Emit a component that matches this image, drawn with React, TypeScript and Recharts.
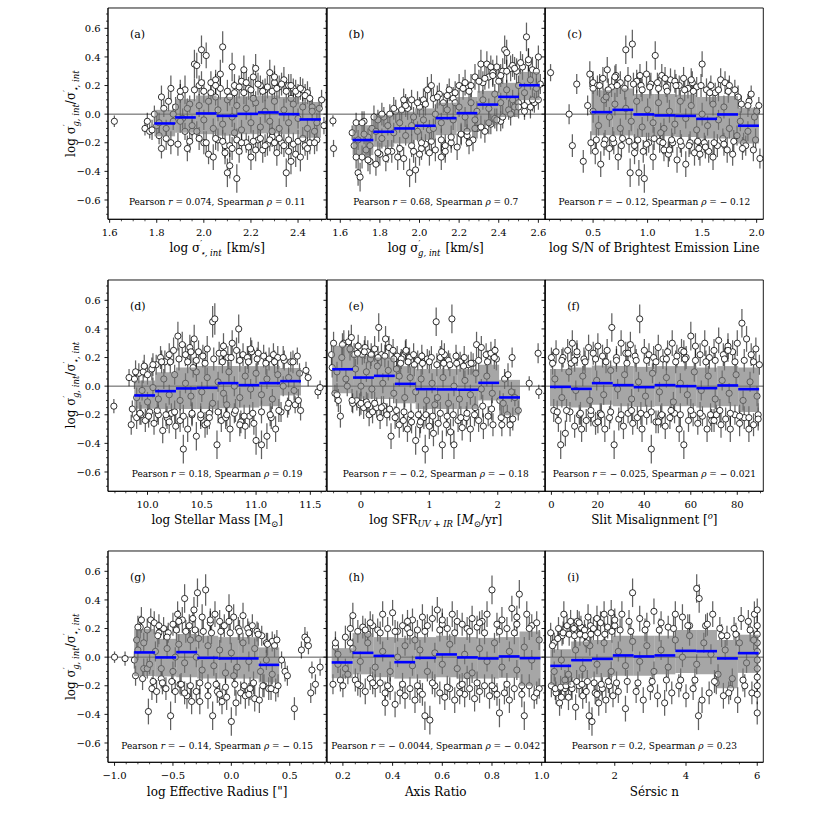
import React from "react";
import { ComposedChart, Scatter, XAxis, YAxis, ErrorBar, ReferenceArea, ReferenceLine } from "recharts";

const SERIF = "'DejaVu Serif', serif";

// shared y axis
const Y_DOMAIN = [-0.735, 0.742];
const Y_TICKS = [-0.6, -0.4, -0.2, 0, 0.2, 0.4, 0.6];
const Y_MINOR = [-0.7, -0.65, -0.55, -0.5, -0.45, -0.35, -0.3, -0.25, -0.15, -0.1, -0.05, 0.05, 0.1, 0.15, 0.25, 0.3, 0.35, 0.45, 0.5, 0.55, 0.65, 0.7];

// points are [x, y, err]; when err is missing the panel's typical error is used

// (a) sigma star
const A_TICKS = [1.6, 1.8, 2.0, 2.2, 2.4];
const A_MINOR = [1.65, 1.7, 1.75, 1.85, 1.9, 1.95, 2.05, 2.1, 2.15, 2.25, 2.3, 2.35, 2.45, 2.5];
const A_EDGES = [1.79, 1.878, 1.966, 2.054, 2.142, 2.23, 2.318, 2.406, 2.497];
const A_MED = [-0.065, -0.023, 0.005, -0.012, 0.002, 0.012, 0.0, -0.037];
const A_HI = [0.03, 0.105, 0.13, 0.12, 0.125, 0.13, 0.12, 0.085];
const A_LO = [-0.155, -0.13, -0.14, -0.15, -0.14, -0.135, -0.14, -0.165];
const A_PTS = [
  [1.62,-0.05,0.04],[1.75,-0.10,0.05],[1.76,-0.05,0.06],[1.77,-0.12,0.05],[1.78,-0.11,0.07],[1.79,0.0,0.06],
  [1.80,-0.08,0.08],[1.81,-0.15,0.06],[1.82,-0.24,0.07],[1.83,0.04,0.06],[1.84,-0.17,0.08],[1.85,0.09,0.07],[1.86,0.18,0.09],[1.87,-0.05,0.06],[1.88,0.05,0.07],
  [1.89,-0.21,0.08],[1.90,0.12,0.09],[1.91,-0.03,0.07],[1.92,0.17,0.1],[1.93,-0.24,0.09],[1.94,0.07,0.06],[1.95,-0.12,0.08],[1.96,0.35,0.1],[1.97,0.34,0.09],[1.98,0.2,0.07],[1.99,0.45,0.1],
  [2.00,-0.2,0.08],[2.01,0.41,0.09],[2.02,-0.28,0.07],[2.03,0.22,0.08],[2.04,-0.3,0.09],[2.05,0.24,0.07],[2.06,-0.18,0.08],[2.07,0.28,0.1],[2.08,0.47,0.11],[2.09,-0.22,0.09],[2.10,-0.41,0.1],[2.11,-0.36,0.09],[2.12,0.33,0.1],[2.13,0.2,0.08],[2.14,-0.45,0.1],[2.15,-0.26,0.08],[2.16,0.23,0.09],[2.17,0.31,0.1],[2.18,-0.2,0.07],[2.19,0.18,0.08],[2.2,-0.3,0.09],[2.21,0.26,0.09],[2.22,0.32,0.1],[2.23,-0.18,0.08],[2.24,0.2,0.07],[2.25,-0.25,0.09],[2.26,0.17,0.08],[2.27,-0.21,0.08],[2.28,0.29,0.09],[2.29,-0.16,0.07],[2.30,0.22,0.08],[2.31,-0.27,0.09],[2.32,0.19,0.08],[2.33,-0.2,0.08],[2.34,0.24,0.09],[2.35,-0.41,0.1],[2.36,0.2,0.08],[2.37,-0.33,0.09],[2.38,0.18,0.07],[2.39,-0.28,0.09],[2.40,0.14,0.07],[2.41,-0.3,0.1],[2.42,0.17,0.08],[2.43,-0.22,0.07],[2.44,0.15,0.08],[2.45,-0.2,0.08],[2.46,0.05,0.06],[2.47,-0.12,0.07],[2.48,-0.18,0.08],[2.50,0.1,0.07],[2.51,-0.08,0.06],
  [1.81,-0.06,0.07],[1.84,-0.1,0.06],[1.87,0.0,0.07],[1.9,-0.05,0.08],[1.93,0.04,0.07],[1.95,-0.08,0.07],[1.98,0.06,0.08],[2.0,-0.04,0.07],[2.02,0.09,0.08],[2.04,-0.1,0.07],[2.06,0.03,0.08],[2.08,-0.07,0.07],[2.1,0.1,0.08],[2.12,-0.02,0.07],[2.14,0.06,0.08],[2.16,-0.11,0.07],[2.18,0.04,0.08],[2.2,-0.06,0.07],[2.22,0.08,0.08],[2.24,-0.09,0.07],[2.26,0.02,0.08],[2.28,-0.05,0.07],[2.3,0.09,0.08],[2.32,-0.1,0.07],[2.34,0.03,0.08],[2.36,-0.06,0.07],[2.38,0.07,0.08],[2.4,-0.03,0.07],[2.42,0.05,0.08],[2.44,-0.1,0.07],[2.46,0.02,0.07],[2.48,-0.06,0.07],[1.97,-0.12,0.07],[2.05,0.12,0.06],[2.13,-0.13,0.07],[2.21,0.11,0.06],[2.29,-0.12,0.07],[2.37,0.11,0.06],[1.92,-0.12,0.06],[2.11,0.12,0.06],
  [1.82,0.12],[1.86,-0.2],[1.9,0.16],[1.94,-0.19],[1.96,0.17],[1.98,-0.17],[2.0,0.16],[2.01,-0.2],[2.03,0.15],[2.05,-0.17],[2.07,0.18],[2.08,-0.19],[2.1,0.16],[2.11,-0.22],[2.13,0.15],[2.14,-0.18],[2.15,0.19],[2.16,-0.2],[2.17,0.15],[2.19,-0.23],[2.2,0.17],[2.21,-0.19],[2.23,0.21],[2.24,-0.17],[2.25,0.16],[2.26,-0.22],[2.27,0.19],[2.28,-0.18],[2.29,0.16],[2.3,-0.2],[2.31,0.18],[2.32,-0.17],[2.33,0.21],[2.34,-0.22],[2.35,0.16],[2.36,-0.18],[2.37,0.2],[2.38,-0.21],[2.39,0.16],[2.4,-0.19],[2.41,0.18],[2.42,-0.17],[2.43,0.13],[2.44,-0.24],[2.45,0.11],[2.47,-0.2],[2.49,0.04],[2.05,0.2],[2.12,-0.24],[2.18,0.22],[2.22,-0.25],[2.3,0.26],[2.36,-0.26],[1.99,0.22],[2.09,-0.27],
];

// (b) sigma gas
const B_TICKS = [1.6, 1.8, 2.0, 2.2, 2.4, 2.6];
const B_MINOR = [1.55, 1.65, 1.7, 1.75, 1.85, 1.9, 1.95, 2.05, 2.1, 2.15, 2.25, 2.3, 2.35, 2.45, 2.5, 2.55];
const B_EDGES = [1.662, 1.767, 1.872, 1.977, 2.082, 2.187, 2.292, 2.397, 2.502, 2.607];
const B_MED = [-0.181, -0.123, -0.1, -0.081, -0.028, 0.007, 0.067, 0.121, 0.202];
const B_HI = [-0.077, -0.007, 0.016, 0.04, 0.08, 0.12, 0.163, 0.219, 0.295];
const B_LO = [-0.286, -0.228, -0.205, -0.18, -0.147, -0.123, -0.077, -0.02, 0.098];
const B_PTS = [
  [1.563,-0.047,0.04],[1.566,-0.24,0.06],
  [1.66,-0.13,0.05],[1.67,-0.22,0.06],[1.68,-0.06,0.07],[1.69,-0.41,0.09],[1.70,-0.44,0.1],[1.71,-0.3,0.08],[1.72,-0.05,0.07],[1.73,-0.25,0.07],[1.74,-0.16,0.06],[1.75,-0.33,0.09],[1.76,-0.1,0.07],
  [1.78,-0.35,0.08],[1.79,-0.04,0.07],[1.80,-0.28,0.08],[1.82,-0.02,0.07],[1.83,-0.31,0.09],[1.85,0.0,0.07],[1.86,-0.26,0.08],[1.88,0.02,0.08],[1.89,-0.3,0.09],[1.91,0.03,0.07],[1.92,-0.31,0.08],[1.94,0.04,0.08],[1.95,-0.41,0.1],[1.96,0.1,0.07],[1.97,-0.26,0.08],[1.98,-0.39,0.09],[2.0,0.05,0.07],[2.01,-0.24,0.08],[2.02,0.1,0.08],[2.03,-0.21,0.07],[2.04,0.17,0.09],[2.05,-0.27,0.09],[2.07,0.11,0.07],[2.08,-0.25,0.08],[2.1,0.14,0.08],[2.11,-0.3,0.09],[2.12,0.08,0.07],[2.13,-0.22,0.08],[2.15,0.17,0.08],[2.16,-0.2,0.07],[2.17,0.11,0.08],[2.19,-0.23,0.09],[2.2,0.2,0.08],[2.21,-0.14,0.07],[2.23,0.22,0.09],[2.24,-0.15,0.08],[2.25,0.16,0.07],[2.27,-0.18,0.08],[2.28,0.26,0.09],[2.29,-0.1,0.07],[2.31,0.35,0.1],[2.32,0.22,0.08],[2.33,-0.12,0.08],[2.34,0.35,0.09],[2.35,0.26,0.08],[2.36,-0.07,0.07],[2.37,0.29,0.09],[2.38,-0.03,0.07],[2.39,0.33,0.08],[2.4,0.23,0.08],[2.41,-0.05,0.07],[2.42,0.3,0.09],[2.43,0.45,0.1],[2.44,0.43,0.09],[2.45,0.03,0.07],[2.46,0.32,0.09],[2.47,0.34,0.08],[2.48,0.05,0.07],[2.49,0.3,0.09],[2.5,0.08,0.07],[2.52,0.33,0.09],[2.53,0.02,0.06],[2.54,0.54,0.1],[2.55,0.36,0.1],[2.56,0.05,0.08],[2.57,0.31,0.09],[2.58,0.08,0.07],[2.59,0.3,0.08],[2.6,0.1,0.07],[2.61,0.21,0.07],
  [1.69,-0.18,0.07],[1.72,-0.14,0.07],[1.75,-0.22,0.07],[1.78,-0.12,0.07],[1.81,-0.17,0.07],[1.84,-0.08,0.07],[1.87,-0.13,0.07],[1.9,-0.06,0.07],[1.93,-0.15,0.07],[1.96,-0.08,0.07],[1.99,-0.12,0.07],[2.02,-0.04,0.07],[2.05,-0.11,0.07],[2.08,0.0,0.07],[2.11,-0.06,0.07],[2.14,0.03,0.07],[2.17,-0.04,0.07],[2.2,0.05,0.07],[2.23,-0.02,0.07],[2.26,0.08,0.07],[2.29,0.02,0.07],[2.32,0.1,0.07],[2.35,0.04,0.07],[2.38,0.14,0.07],[2.41,0.08,0.07],[2.44,0.17,0.07],[2.47,0.1,0.07],[2.5,0.2,0.07],[2.53,0.15,0.07],[2.56,0.24,0.07],[2.59,0.18,0.07],[1.97,-0.02,0.07],[2.07,-0.1,0.07],[2.18,0.08,0.07],[2.28,-0.04,0.07],
  [1.68,-0.3],[1.71,-0.06],[1.74,-0.32],[1.77,-0.02],[1.79,-0.27],[1.81,0.0],[1.84,-0.26],[1.87,0.04],[1.9,-0.24],[1.93,0.06],[1.96,-0.22],[1.99,0.08],[2.01,-0.2],[2.03,0.07],[2.06,-0.19],[2.09,0.12],[2.11,-0.18],[2.14,0.13],[2.16,-0.16],[2.18,0.15],[2.21,-0.14],[2.22,0.18],[2.24,-0.12],[2.26,0.2],[2.28,-0.1],[2.3,0.23],[2.31,-0.09],[2.33,0.25],[2.35,-0.06],[2.37,0.27],[2.39,-0.04],[2.41,0.27],[2.42,-0.02],[2.44,0.3],[2.46,0.0],[2.48,0.32],[2.5,0.05],[2.51,0.36],[2.53,0.06],[2.55,0.38],[2.57,0.1],[2.6,0.4],[2.0,-0.28],[2.13,-0.26],[2.25,-0.2],[2.36,0.33],[1.92,0.1],[2.06,0.2],
];

// (c) S/N
const C_TICKS = [0.5, 1.0, 1.5, 2.0];
const C_MINOR = [0.1, 0.2, 0.3, 0.4, 0.6, 0.7, 0.8, 0.9, 1.1, 1.2, 1.3, 1.4, 1.6, 1.7, 1.8, 1.9];
const C_EDGES = [0.485, 0.677, 0.869, 1.061, 1.253, 1.445, 1.637, 1.829, 2.021];
const C_MED = [0.014, 0.03, -0.002, -0.009, -0.012, -0.033, -0.002, -0.081];
const C_HI = [0.167, 0.18, 0.14, 0.14, 0.135, 0.12, 0.126, 0.044];
const C_LO = [-0.147, -0.15, -0.16, -0.155, -0.16, -0.17, -0.17, -0.205];
const C_PTS = [
  [0.11,0.29,0.06],[0.28,0.0,0.07],[0.31,-0.22,0.08],[0.35,0.21,0.07],[0.41,-0.33,0.08],[0.45,0.06,0.07],[0.47,0.28,0.09],[0.48,-0.2,0.08],[0.5,0.22,0.08],[0.52,-0.26,0.09],[0.54,0.2,0.07],[0.57,-0.35,0.09],[0.59,0.25,0.08],[0.61,-0.18,0.07],[0.63,0.31,0.09],[0.65,-0.24,0.08],[0.67,0.19,0.07],[0.69,-0.2,0.08],[0.71,0.27,0.08],[0.73,-0.3,0.09],[0.75,0.22,0.08],[0.77,-0.17,0.07],[0.8,0.45,0.1],[0.82,0.25,0.08],[0.84,-0.41,0.1],[0.86,0.49,0.1],[0.88,-0.22,0.08],[0.9,0.23,0.08],[0.92,-0.41,0.09],[0.94,0.2,0.08],[0.96,-0.26,0.08],[0.97,-0.45,0.1],[0.99,0.28,0.09],[1.01,-0.2,0.07],[1.03,0.21,0.08],[1.05,-0.3,0.09],[1.07,0.41,0.1],[1.09,0.22,0.07],[1.11,-0.19,0.08],[1.13,0.27,0.08],[1.15,-0.25,0.08],[1.17,0.19,0.07],[1.19,-0.28,0.09],[1.21,0.24,0.08],[1.23,-0.2,0.07],[1.25,0.23,0.08],[1.27,-0.32,0.09],[1.29,0.2,0.07],[1.31,-0.22,0.08],[1.33,0.25,0.08],[1.35,-0.35,0.09],[1.37,0.18,0.07],[1.39,-0.2,0.08],[1.41,0.22,0.08],[1.43,-0.27,0.09],[1.45,0.19,0.07],[1.47,-0.24,0.08],[1.5,0.35,0.09],[1.52,-0.2,0.07],[1.54,0.17,0.08],[1.56,-0.26,0.08],[1.58,0.2,0.07],[1.6,-0.3,0.09],[1.62,0.15,0.07],[1.64,-0.22,0.08],[1.67,0.24,0.08],[1.69,-0.17,0.07],[1.71,0.22,0.08],[1.73,-0.25,0.09],[1.75,0.2,0.07],[1.78,-0.28,0.08],[1.8,0.17,0.07],[1.82,-0.15,0.07],[1.86,0.07,0.06],[1.88,-0.2,0.07],[1.9,-0.22,0.07],[1.93,0.09,0.07],[1.95,0.14,0.06],[1.97,-0.25,0.08],[2.0,0.02,0.06],[2.02,0.06,0.06],[2.03,-0.31,0.07],
  [0.5,0.02,0.08],[0.55,-0.08,0.07],[0.6,0.1,0.08],[0.65,-0.02,0.07],[0.7,0.07,0.08],[0.75,-0.1,0.07],[0.8,0.04,0.08],[0.85,-0.05,0.07],[0.9,0.09,0.08],[0.95,-0.09,0.07],[1.0,0.03,0.08],[1.05,-0.06,0.07],[1.1,0.08,0.08],[1.15,-0.1,0.07],[1.2,0.02,0.08],[1.25,-0.07,0.07],[1.3,0.09,0.08],[1.35,-0.03,0.07],[1.4,0.06,0.08],[1.45,-0.11,0.07],[1.5,0.0,0.08],[1.55,-0.08,0.07],[1.6,0.07,0.08],[1.65,-0.04,0.07],[1.7,0.05,0.08],[1.75,-0.1,0.07],[1.85,-0.05,0.07],[1.92,-0.12,0.07],[1.98,-0.02,0.07],[0.62,0.12,0.07],[1.12,-0.13,0.07],
  [0.5,0.18],[0.53,-0.18],[0.56,0.2],[0.6,-0.21],[0.64,0.17],[0.68,-0.17],[0.72,0.2],[0.76,-0.22],[0.79,0.18],[0.83,-0.19],[0.87,0.21],[0.91,-0.18],[0.95,0.17],[0.99,-0.21],[1.02,0.19],[1.06,-0.17],[1.1,0.18],[1.14,-0.2],[1.18,0.16],[1.22,-0.18],[1.26,0.2],[1.3,-0.19],[1.34,0.17],[1.38,-0.22],[1.42,0.16],[1.46,-0.19],[1.49,0.2],[1.53,-0.23],[1.57,0.15],[1.61,-0.2],[1.65,0.17],[1.7,-0.21],[1.74,0.16],[1.79,-0.19],[1.83,0.12],[1.87,-0.24],[1.92,0.06],[1.99,-0.18],[0.7,0.26],[0.93,0.27],[1.16,0.25],[1.4,0.24],[0.88,-0.27],[1.2,-0.25],[1.48,-0.28],
];

// (d) stellar mass
const D_TICKS = [10.0, 10.5, 11.0, 11.5];
const D_MINOR = [9.7, 9.8, 9.9, 10.1, 10.2, 10.3, 10.4, 10.6, 10.7, 10.8, 10.9, 11.1, 11.2, 11.3, 11.4, 11.6];
const D_EDGES = [9.878, 10.07, 10.262, 10.454, 10.646, 10.838, 11.03, 11.222, 11.414];
const D_MED = [-0.065, -0.035, -0.016, -0.012, 0.021, 0.007, 0.021, 0.035];
const D_HI = [0.039, 0.097, 0.13, 0.14, 0.14, 0.14, 0.14, 0.127];
const D_LO = [-0.158, -0.16, -0.16, -0.16, -0.155, -0.15, -0.14, -0.065];
const D_PTS = [
  [9.69,-0.14,0.05],[9.83,0.06,0.06],[9.85,-0.27,0.07],[9.86,-0.16,0.06],[9.88,0.05,0.07],[9.9,-0.22,0.08],[9.92,0.09,0.07],[9.94,-0.2,0.07],[9.96,0.1,0.08],[9.98,-0.24,0.08],[10.0,0.08,0.07],[10.02,-0.18,0.07],[10.04,0.12,0.08],[10.06,-0.26,0.08],[10.08,0.15,0.07],[10.1,-0.2,0.07],[10.12,0.2,0.08],[10.14,-0.31,0.09],[10.16,0.17,0.08],[10.18,-0.22,0.08],[10.2,0.22,0.08],[10.22,-0.19,0.07],[10.24,0.25,0.09],[10.26,-0.28,0.09],[10.28,0.35,0.1],[10.3,-0.24,0.08],[10.32,0.29,0.09],[10.33,-0.44,0.1],[10.35,0.22,0.08],[10.37,-0.3,0.09],[10.39,0.27,0.09],[10.41,-0.2,0.08],[10.43,0.33,0.1],[10.45,-0.35,0.1],[10.47,0.24,0.08],[10.49,-0.22,0.08],[10.51,0.21,0.08],[10.53,-0.27,0.09],[10.55,0.26,0.09],[10.57,-0.19,0.07],[10.6,0.45,0.11],[10.62,0.47,0.11],[10.64,-0.41,0.1],[10.66,0.23,0.08],[10.68,-0.24,0.08],[10.7,0.28,0.09],[10.72,-0.22,0.08],[10.74,0.2,0.08],[10.76,-0.3,0.09],[10.78,0.3,0.09],[10.8,-0.19,0.07],[10.82,0.25,0.09],[10.84,0.4,0.1],[10.86,-0.25,0.08],[10.88,0.22,0.08],[10.9,-0.28,0.09],[10.92,0.2,0.08],[10.94,-0.21,0.08],[10.96,0.24,0.08],[10.98,-0.26,0.08],[11.0,-0.38,0.1],[11.02,0.23,0.08],[11.05,-0.41,0.1],[11.07,0.21,0.08],[11.1,-0.35,0.09],[11.12,0.19,0.08],[11.14,-0.22,0.08],[11.16,0.22,0.08],[11.18,-0.3,0.09],[11.2,0.2,0.08],[11.23,-0.18,0.07],[11.26,0.18,0.07],[11.29,-0.15,0.07],[11.32,0.17,0.07],[11.36,-0.13,0.06],[11.38,0.21,0.06],[11.41,-0.17,0.07],[11.46,0.11,0.06],[11.48,0.06,0.06],[11.57,-0.04,0.05],[11.59,-0.01,0.05],
  [9.9,-0.08,0.07],[9.95,-0.03,0.07],[10.0,-0.11,0.07],[10.05,-0.01,0.07],[10.1,-0.09,0.07],[10.15,0.05,0.07],[10.2,-0.06,0.07],[10.25,0.08,0.07],[10.3,-0.1,0.07],[10.35,0.02,0.07],[10.4,-0.07,0.07],[10.45,0.1,0.07],[10.5,-0.04,0.07],[10.55,0.06,0.07],[10.6,-0.12,0.07],[10.65,0.03,0.07],[10.7,-0.05,0.07],[10.75,0.1,0.07],[10.8,0.0,0.07],[10.85,-0.08,0.07],[10.9,0.07,0.07],[10.95,-0.02,0.07],[11.0,0.09,0.07],[11.05,-0.06,0.07],[11.1,0.05,0.07],[11.15,-0.09,0.07],[11.2,0.08,0.07],[11.25,0.0,0.07],[11.3,0.06,0.07],[11.35,-0.03,0.07],[11.4,0.09,0.07],[10.42,0.13,0.07],[10.73,-0.13,0.07],
  [9.89,0.1],[9.93,-0.19],[9.97,0.14],[10.01,-0.21],[10.05,0.15],[10.09,-0.17],[10.13,0.17],[10.17,-0.2],[10.21,0.17],[10.25,-0.18],[10.29,0.19],[10.33,-0.21],[10.37,0.17],[10.41,-0.19],[10.45,0.18],[10.49,-0.2],[10.53,0.16],[10.57,-0.22],[10.61,0.19],[10.65,-0.18],[10.69,0.17],[10.73,-0.2],[10.77,0.2],[10.81,-0.17],[10.85,0.18],[10.89,-0.21],[10.93,0.17],[10.97,-0.19],[11.01,0.19],[11.05,-0.18],[11.09,0.16],[11.13,-0.2],[11.17,0.17],[11.21,-0.17],[11.25,0.2],[11.3,-0.12],[11.34,0.17],[11.39,-0.1],[10.4,0.24],[10.7,0.23],[10.95,0.26],[10.55,-0.26],[10.85,-0.27],[10.2,-0.25],
];

// (e) SFR
const E_TICKS = [0, 1, 2];
const E_MINOR = [-0.4, -0.2, 0.2, 0.4, 0.6, 0.8, 1.2, 1.4, 1.6, 1.8, 2.2, 2.4, 2.6];
const E_EDGES = [-0.42, -0.115, 0.19, 0.495, 0.8, 1.105, 1.41, 1.715, 2.02, 2.325];
const E_MED = [0.118, 0.06, 0.072, 0.016, -0.021, -0.023, -0.025, 0.023, -0.079];
const E_HI = [0.283, 0.213, 0.2, 0.14, 0.12, 0.12, 0.12, 0.15, 0.044];
const E_LO = [-0.049, -0.088, -0.09, -0.12, -0.16, -0.16, -0.16, -0.1, -0.204];
const E_PTS = [
  [-0.43,0.22,0.08],[-0.42,0.13,0.07],[-0.38,-0.05,0.06],[-0.33,-0.1,0.08],[-0.3,-0.21,0.08],[-0.25,0.3,0.09],[-0.2,0.0,0.07],[-0.18,0.31,0.08],[-0.14,0.34,0.09],[-0.12,-0.12,0.07],[-0.1,0.22,0.08],[-0.06,-0.1,0.07],[-0.04,0.28,0.08],[-0.02,-0.13,0.08],[0.02,0.22,0.07],[0.04,-0.15,0.08],[0.06,0.27,0.08],[0.08,-0.11,0.07],[0.1,0.24,0.08],[0.12,-0.2,0.08],[0.14,0.19,0.07],[0.17,-0.18,0.08],[0.2,0.26,0.09],[0.23,-0.15,0.07],[0.26,0.41,0.1],[0.28,-0.22,0.08],[0.3,0.22,0.08],[0.33,-0.14,0.07],[0.36,0.33,0.09],[0.38,-0.2,0.08],[0.41,0.27,0.08],[0.44,-0.35,0.09],[0.47,0.25,0.08],[0.5,-0.22,0.08],[0.53,0.21,0.07],[0.56,-0.27,0.09],[0.59,0.19,0.07],[0.62,-0.24,0.08],[0.65,0.24,0.08],[0.68,-0.3,0.09],[0.71,0.2,0.07],[0.74,-0.25,0.08],[0.77,0.22,0.08],[0.8,-0.38,0.1],[0.83,0.18,0.07],[0.86,-0.27,0.09],[0.89,0.21,0.08],[0.92,-0.22,0.08],[0.94,-0.44,0.1],[0.97,0.19,0.07],[1.0,-0.28,0.09],[1.03,0.2,0.08],[1.06,-0.33,0.09],[1.1,0.45,0.1],[1.13,-0.26,0.08],[1.16,0.2,0.08],[1.19,-0.41,0.1],[1.22,0.22,0.08],[1.25,-0.27,0.08],[1.28,0.18,0.07],[1.31,-0.32,0.09],[1.33,0.47,0.1],[1.36,-0.41,0.1],[1.39,0.21,0.08],[1.42,-0.24,0.08],[1.45,0.17,0.07],[1.48,-0.29,0.09],[1.51,0.2,0.08],[1.54,-0.22,0.08],[1.57,0.15,0.07],[1.6,-0.3,0.09],[1.64,0.16,0.07],[1.66,-0.2,0.08],[1.69,0.29,0.09],[1.72,-0.24,0.08],[1.76,0.27,0.08],[1.79,-0.28,0.09],[1.83,0.22,0.08],[1.86,-0.21,0.07],[1.9,0.23,0.08],[1.93,-0.27,0.08],[1.96,0.25,0.08],[1.98,0.19,0.08],[2.03,-0.1,0.07],[2.06,-0.27,0.08],[2.1,0.05,0.07],[2.14,-0.2,0.07],[2.18,-0.27,0.08],[2.21,0.2,0.07],[2.25,-0.08,0.06],[2.3,-0.17,0.07],[2.46,0.02,0.05],[2.59,0.23,0.07],[2.6,-0.04,0.05],
  [-0.35,0.1,0.07],[-0.28,0.2,0.07],[-0.22,0.05,0.07],[-0.08,0.12,0.07],[0.0,0.0,0.07],[0.08,0.1,0.07],[0.16,-0.02,0.07],[0.24,0.14,0.07],[0.32,0.02,0.07],[0.4,0.11,0.07],[0.48,-0.05,0.07],[0.56,0.07,0.07],[0.64,-0.08,0.07],[0.72,0.06,0.07],[0.8,-0.04,0.07],[0.88,0.05,0.07],[0.96,-0.1,0.07],[1.04,0.02,0.07],[1.12,-0.08,0.07],[1.2,0.06,0.07],[1.28,-0.12,0.07],[1.36,0.0,0.07],[1.44,-0.09,0.07],[1.52,0.04,0.07],[1.6,-0.06,0.07],[1.68,0.09,0.07],[1.76,-0.02,0.07],[1.84,0.07,0.07],[1.92,-0.05,0.07],[2.08,-0.12,0.07],[2.2,-0.04,0.07],[0.52,0.12,0.07],[1.08,-0.13,0.07],
  [-0.4,0.3],[-0.35,-0.06],[-0.27,0.29],[-0.16,0.26],[-0.13,-0.1],[-0.05,0.23],[0.0,-0.12],[0.05,0.24],[0.1,-0.13],[0.15,0.22],[0.2,-0.12],[0.25,0.2],[0.3,-0.15],[0.35,0.21],[0.42,-0.16],[0.48,0.19],[0.52,-0.17],[0.58,0.16],[0.63,-0.18],[0.69,0.17],[0.73,-0.2],[0.78,0.15],[0.84,-0.2],[0.9,0.16],[0.95,-0.2],[1.0,0.17],[1.05,-0.21],[1.11,0.15],[1.16,-0.19],[1.21,0.16],[1.26,-0.21],[1.3,0.15],[1.35,-0.2],[1.4,0.16],[1.46,-0.22],[1.5,0.14],[1.55,-0.19],[1.61,0.16],[1.67,-0.15],[1.72,0.18],[1.78,-0.14],[1.85,0.17],[1.91,-0.16],[1.95,0.2],[2.05,-0.22],[2.15,0.08],[2.22,-0.23],[0.66,0.25],[1.18,0.24],[0.87,-0.25],
];

// (f) slit misalignment
const F_TICKS = [0, 20, 40, 60, 80];
const F_MINOR = [5, 10, 15, 25, 30, 35, 45, 50, 55, 65, 70, 75, 85, 90];
const F_EDGES = [-0.6, 8.4, 17.4, 26.4, 35.4, 44.4, 53.4, 62.4, 71.4, 80.4, 89.4];
const F_MED = [-0.005, -0.019, 0.021, 0.007, -0.007, 0.007, 0.0, -0.014, 0.005, -0.021];
const F_HI = [0.12, 0.13, 0.144, 0.14, 0.135, 0.14, 0.14, 0.13, 0.14, 0.13];
const F_LO = [-0.14, -0.15, -0.13, -0.14, -0.145, -0.14, -0.14, -0.15, -0.14, -0.18];
const F_PTS = [
  [0,0.2,0.07],[1,-0.17,0.08],[2,0.24,0.08],[3,-0.24,0.08],[4,-0.41,0.1],[5,0.2,0.07],[6,-0.33,0.09],[7,0.25,0.08],[8,-0.18,0.07],[9,0.3,0.09],[10,-0.28,0.08],[11,0.22,0.08],[12,-0.2,0.07],[13,-0.3,0.09],[14,0.19,0.08],[15,-0.24,0.08],[16,0.27,0.09],[17,-0.2,0.08],[18,0.23,0.08],[19,-0.26,0.08],[20,0.28,0.09],[21,-0.19,0.07],[22,0.21,0.08],[23,-0.3,0.09],[24,0.25,0.08],[25,-0.22,0.08],[26,0.41,0.1],[27,-0.41,0.1],[28,0.2,0.08],[29,-0.23,0.08],[30,0.3,0.09],[31,-0.28,0.09],[32,0.23,0.08],[33,-0.19,0.07],[34,0.29,0.09],[35,-0.26,0.08],[36,0.21,0.08],[37,-0.22,0.08],[38,0.47,0.1],[39,-0.3,0.09],[40,0.25,0.08],[41,-0.2,0.07],[42,0.22,0.08],[43,-0.44,0.1],[44,0.2,0.08],[45,-0.25,0.08],[46,0.27,0.09],[47,-0.21,0.08],[48,0.19,0.07],[49,-0.28,0.09],[50,0.24,0.08],[51,-0.22,0.08],[52,0.3,0.09],[53,-0.19,0.07],[54,0.21,0.08],[55,-0.3,0.09],[56,0.25,0.08],[57,-0.41,0.1],[58,0.2,0.08],[59,-0.24,0.08],[60,0.35,0.1],[61,-0.2,0.08],[62,0.28,0.09],[63,-0.26,0.08],[64,0.22,0.08],[65,-0.21,0.07],[66,0.3,0.09],[67,-0.3,0.09],[68,0.2,0.08],[69,-0.24,0.08],[70,0.25,0.08],[71,-0.2,0.07],[72,0.32,0.09],[73,-0.27,0.09],[74,0.22,0.08],[75,-0.23,0.08],[76,0.28,0.09],[77,-0.3,0.09],[78,0.24,0.08],[79,-0.2,0.07],[80,0.3,0.09],[81,-0.26,0.09],[82,0.44,0.1],[83,-0.22,0.08],[84,0.33,0.09],[85,-0.3,0.09],[86,0.22,0.08],[87,-0.27,0.08],[88,0.26,0.08],[89,-0.2,0.08],[89.5,0.15,0.07],
  [1.5,0.05,0.07],[4.5,-0.08,0.07],[7.5,0.1,0.07],[10.5,-0.03,0.07],[13.5,0.07,0.07],[16.5,-0.1,0.07],[19.5,0.04,0.07],[22.5,-0.06,0.07],[25.5,0.11,0.07],[28.5,-0.02,0.07],[31.5,0.08,0.07],[34.5,-0.09,0.07],[37.5,0.03,0.07],[40.5,-0.07,0.07],[43.5,0.09,0.07],[46.5,-0.04,0.07],[49.5,0.06,0.07],[52.5,-0.11,0.07],[55.5,0.02,0.07],[58.5,-0.06,0.07],[61.5,0.1,0.07],[64.5,-0.03,0.07],[67.5,0.07,0.07],[70.5,-0.09,0.07],[73.5,0.04,0.07],[76.5,-0.05,0.07],[79.5,0.08,0.07],[82.5,-0.1,0.07],[85.5,0.03,0.07],[88.5,-0.07,0.07],
  [0.5,0.16],[2.5,-0.18],[4.5,0.18],[6.5,-0.17],[8.5,0.16],[10,0.18],[12.5,-0.19],[14.5,0.17],[17,-0.17],[19,0.19],[21.5,-0.2],[23.5,0.17],[25.5,-0.18],[28,0.18],[30,-0.2],[32.5,0.16],[34.5,-0.17],[36.5,0.18],[38.5,-0.19],[41,0.18],[43,-0.18],[45,0.17],[47.5,-0.2],[49.5,0.19],[51.5,-0.17],[53.5,0.17],[55.5,-0.2],[57.5,0.19],[60,-0.17],[62,0.18],[64,-0.19],[66.5,0.17],[68.5,-0.2],[70.5,0.18],[72.5,-0.17],[74.5,0.19],[77,-0.19],[79,0.17],[81,-0.21],[83,0.18],[85,-0.22],[87,0.17],[89,-0.23],[11,0.24],[33,0.23],[57,0.24],[76,0.25],[20,-0.25],[46,-0.25],[70,-0.24],
];

// (g) effective radius
const G_TICKS = [-1.0, -0.5, 0.0, 0.5];
const G_MINOR = [-0.9, -0.8, -0.7, -0.6, -0.4, -0.3, -0.2, -0.1, 0.1, 0.2, 0.3, 0.4, 0.6, 0.7, 0.8];
const G_EDGES = [-0.832, -0.652, -0.472, -0.292, -0.112, 0.058, 0.234, 0.41];
const G_MED = [0.033, -0.002, 0.035, -0.005, -0.009, -0.009, -0.054];
const G_HI = [0.196, 0.128, 0.161, 0.15, 0.14, 0.14, 0.068];
const G_LO = [-0.131, -0.135, -0.14, -0.15, -0.15, -0.15, -0.177];
const G_PTS = [
  [-1.0,0.0,0.04],[-0.91,-0.01,0.05],[-0.83,-0.02,0.06],[-0.82,-0.13,0.07],[-0.81,0.12,0.07],[-0.78,0.21,0.08],[-0.77,0.26,0.09],[-0.75,-0.08,0.07],[-0.72,-0.08,0.07],[-0.71,-0.38,0.09],[-0.69,0.26,0.08],[-0.68,-0.22,0.08],[-0.66,0.24,0.08],[-0.64,-0.24,0.08],[-0.62,0.17,0.08],[-0.6,-0.15,0.07],[-0.58,0.2,0.08],[-0.56,-0.22,0.08],[-0.54,0.17,0.07],[-0.52,-0.41,0.1],[-0.5,0.23,0.08],[-0.48,-0.24,0.08],[-0.46,0.3,0.09],[-0.44,-0.19,0.07],[-0.42,0.26,0.09],[-0.4,0.41,0.1],[-0.38,-0.27,0.09],[-0.36,0.22,0.08],[-0.34,-0.31,0.09],[-0.32,0.33,0.09],[-0.3,-0.24,0.08],[-0.29,0.45,0.1],[-0.27,-0.31,0.09],[-0.25,0.28,0.09],[-0.22,0.47,0.11],[-0.2,-0.27,0.09],[-0.18,0.24,0.08],[-0.16,-0.41,0.1],[-0.14,0.3,0.09],[-0.12,-0.24,0.08],[-0.1,0.25,0.08],[-0.08,-0.31,0.09],[-0.06,0.22,0.08],[-0.04,-0.28,0.09],[-0.02,0.34,0.1],[0.0,-0.45,0.1],[0.02,0.28,0.09],[0.04,-0.32,0.09],[0.06,0.2,0.08],[0.08,-0.25,0.08],[0.1,0.29,0.09],[0.12,-0.27,0.09],[0.14,0.2,0.07],[0.16,-0.22,0.08],[0.18,0.22,0.08],[0.2,-0.29,0.09],[0.22,0.18,0.07],[0.24,-0.3,0.09],[0.26,0.15,0.07],[0.28,-0.2,0.08],[0.3,0.1,0.07],[0.32,-0.22,0.08],[0.35,0.11,0.07],[0.38,-0.23,0.08],[0.39,0.12,0.07],[0.43,-0.02,0.06],[0.46,-0.1,0.07],[0.48,-0.13,0.07],[0.54,-0.36,0.08],[0.6,0.05,0.06],[0.63,0.14,0.07],[0.65,0.12,0.06],[0.66,0.08,0.06],[0.68,-0.25,0.07],[0.69,-0.09,0.06],[0.72,-0.19,0.07],[0.76,-0.07,0.06],
  [-0.8,0.05,0.07],[-0.75,0.1,0.07],[-0.7,-0.05,0.07],[-0.65,0.04,0.07],[-0.6,-0.08,0.07],[-0.55,0.06,0.07],[-0.5,-0.1,0.07],[-0.45,0.09,0.07],[-0.4,-0.04,0.07],[-0.35,0.12,0.07],[-0.3,0.0,0.07],[-0.25,-0.09,0.07],[-0.2,0.08,0.07],[-0.15,-0.06,0.07],[-0.1,0.05,0.07],[-0.05,-0.11,0.07],[0.0,0.03,0.07],[0.05,-0.07,0.07],[0.1,0.1,0.07],[0.15,-0.03,0.07],[0.2,0.06,0.07],[0.25,-0.1,0.07],[0.3,-0.02,0.07],[0.35,-0.12,0.07],[-0.28,0.13,0.07],[0.02,-0.13,0.07],[-0.48,0.0,0.07],
  [-0.8,0.21],[-0.76,-0.15],[-0.72,0.19],[-0.67,-0.17],[-0.63,0.15],[-0.59,-0.18],[-0.55,0.14],[-0.51,-0.17],[-0.47,0.19],[-0.43,-0.19],[-0.39,0.18],[-0.35,-0.2],[-0.31,0.19],[-0.27,-0.18],[-0.24,0.18],[-0.2,-0.2],[-0.17,0.17],[-0.13,-0.19],[-0.09,0.18],[-0.05,-0.21],[-0.01,0.17],[0.03,-0.19],[0.07,0.18],[0.11,-0.2],[0.15,0.17],[0.19,-0.18],[0.23,0.16],[0.27,-0.2],[0.31,0.09],[0.34,-0.22],[0.37,0.08],[0.4,-0.2],[-0.45,0.25],[-0.33,0.27],[-0.18,0.26],[-0.02,0.25],[-0.4,-0.25],[-0.1,-0.26],[0.15,-0.26],[-0.62,0.22],
];

// (h) axis ratio
const H_TICKS = [0.2, 0.4, 0.6, 0.8, 1.0];
const H_MINOR = [0.15, 0.25, 0.3, 0.35, 0.45, 0.5, 0.55, 0.65, 0.7, 0.75, 0.85, 0.9, 0.95];
const H_EDGES = [0.155, 0.239, 0.323, 0.407, 0.491, 0.575, 0.659, 0.743, 0.827, 0.911, 0.995];
const H_MED = [-0.037, 0.03, 0.009, -0.035, -0.005, 0.019, -0.002, -0.009, 0.005, -0.007];
const H_HI = [0.063, 0.168, 0.14, 0.135, 0.14, 0.15, 0.14, 0.135, 0.14, 0.18];
const H_LO = [-0.147, -0.12, -0.14, -0.15, -0.15, -0.14, -0.15, -0.15, -0.145, -0.2];
const H_PTS = [
  [0.16,-0.19,0.07],[0.17,0.07,0.07],[0.18,-0.05,0.06],[0.19,-0.16,0.08],[0.21,0.14,0.08],[0.22,-0.12,0.07],[0.23,0.1,0.07],[0.24,0.29,0.09],[0.25,-0.16,0.08],[0.26,0.18,0.08],[0.27,-0.2,0.08],[0.28,0.21,0.08],[0.29,-0.24,0.09],[0.3,0.16,0.07],[0.31,-0.15,0.08],[0.32,0.22,0.08],[0.33,-0.2,0.08],[0.34,0.19,0.08],[0.35,-0.18,0.07],[0.36,0.3,0.09],[0.37,-0.32,0.09],[0.38,0.2,0.08],[0.39,-0.22,0.08],[0.4,0.31,0.09],[0.41,-0.33,0.09],[0.42,0.18,0.07],[0.43,-0.25,0.08],[0.44,0.22,0.08],[0.45,-0.27,0.09],[0.46,0.2,0.08],[0.47,-0.22,0.08],[0.48,0.26,0.08],[0.49,-0.3,0.09],[0.5,0.19,0.07],[0.51,-0.24,0.08],[0.52,0.28,0.09],[0.53,-0.41,0.1],[0.54,0.22,0.08],[0.55,-0.44,0.1],[0.56,0.27,0.09],[0.57,-0.2,0.08],[0.58,0.33,0.09],[0.59,-0.25,0.08],[0.6,0.23,0.08],[0.61,-0.28,0.09],[0.62,0.2,0.08],[0.63,-0.22,0.08],[0.64,0.3,0.09],[0.65,-0.3,0.09],[0.66,0.25,0.08],[0.67,-0.2,0.08],[0.68,0.23,0.08],[0.69,-0.26,0.09],[0.7,0.2,0.08],[0.71,-0.22,0.08],[0.72,0.27,0.09],[0.73,-0.29,0.09],[0.74,0.21,0.08],[0.75,-0.24,0.08],[0.76,0.25,0.08],[0.77,-0.2,0.08],[0.78,0.3,0.09],[0.79,-0.27,0.09],[0.8,0.47,0.1],[0.81,-0.22,0.08],[0.82,0.23,0.08],[0.83,-0.39,0.1],[0.84,0.26,0.09],[0.85,-0.25,0.08],[0.86,0.2,0.08],[0.87,-0.3,0.09],[0.88,0.34,0.09],[0.89,-0.22,0.08],[0.9,0.28,0.08],[0.91,0.44,0.1],[0.92,-0.26,0.09],[0.93,-0.41,0.1],[0.94,0.3,0.09],[0.95,-0.2,0.08],[0.96,0.22,0.08],[0.97,-0.28,0.08],[0.98,0.24,0.08],[0.99,-0.22,0.07],
  [0.18,0.02,0.07],[0.21,-0.08,0.07],[0.24,0.06,0.07],[0.27,-0.03,0.07],[0.3,0.1,0.07],[0.33,-0.07,0.07],[0.36,0.04,0.07],[0.39,-0.1,0.07],[0.42,0.0,0.07],[0.45,0.08,0.07],[0.48,-0.06,0.07],[0.51,0.05,0.07],[0.54,-0.1,0.07],[0.57,0.03,0.07],[0.6,-0.05,0.07],[0.63,0.09,0.07],[0.66,-0.08,0.07],[0.69,0.02,0.07],[0.72,-0.11,0.07],[0.75,0.06,0.07],[0.78,-0.03,0.07],[0.81,0.1,0.07],[0.84,-0.07,0.07],[0.87,0.04,0.07],[0.9,-0.09,0.07],[0.93,0.07,0.07],[0.96,-0.02,0.07],[0.99,0.12,0.07],[0.49,0.12,0.07],[0.7,-0.13,0.07],
  [0.17,0.1],[0.2,-0.2],[0.23,0.2],[0.26,-0.19],[0.29,0.19],[0.32,-0.18],[0.35,0.17],[0.38,-0.2],[0.41,0.18],[0.44,-0.19],[0.47,0.17],[0.5,-0.2],[0.53,0.18],[0.56,-0.18],[0.59,0.19],[0.62,-0.21],[0.65,0.17],[0.68,-0.19],[0.71,0.18],[0.74,-0.18],[0.77,0.17],[0.8,-0.2],[0.83,0.18],[0.86,-0.19],[0.89,0.17],[0.92,-0.2],[0.95,0.2],[0.98,-0.25],[0.31,0.24],[0.46,0.25],[0.6,0.26],[0.75,0.24],[0.9,0.23],[0.37,-0.25],[0.52,-0.26],[0.67,-0.25],[0.82,-0.26],
];

// (i) Sersic n
const I_TICKS = [2, 4, 6];
const I_MINOR = [0.5, 1, 1.5, 2.5, 3, 3.5, 4.5, 5, 5.5];
const I_EDGES = [0.19, 0.775, 1.36, 1.945, 2.53, 3.115, 3.7, 4.285, 4.87, 5.455, 6.04];
const I_MED = [-0.061, -0.021, -0.012, 0.012, 0.005, 0.012, 0.044, 0.042, -0.009, 0.028];
const I_HI = [0.056, 0.11, 0.12, 0.15, 0.15, 0.15, 0.19, 0.19, 0.12, 0.157];
const I_LO = [-0.194, -0.15, -0.14, -0.13, -0.13, -0.12, -0.11, -0.12, -0.217, -0.11];
const I_PTS = [
  [0.2,0.17,0.07],[0.22,-0.2,0.08],[0.3,0.1,0.07],[0.35,-0.25,0.08],[0.42,0.2,0.08],[0.45,-0.32,0.09],[0.52,0.15,0.07],[0.57,0.3,0.09],[0.6,-0.22,0.08],[0.66,0.22,0.08],[0.7,-0.28,0.09],[0.76,0.25,0.08],[0.8,-0.22,0.08],[0.85,0.2,0.07],[0.9,-0.35,0.09],[0.95,0.25,0.08],[1.0,-0.2,0.08],[1.05,0.21,0.08],[1.1,-0.27,0.09],[1.15,0.19,0.07],[1.2,-0.24,0.08],[1.25,0.28,0.09],[1.28,-0.41,0.1],[1.32,0.22,0.08],[1.36,-0.45,0.1],[1.4,0.2,0.08],[1.45,-0.25,0.08],[1.5,0.27,0.09],[1.55,-0.32,0.09],[1.6,0.24,0.08],[1.65,-0.22,0.08],[1.7,0.3,0.09],[1.75,-0.3,0.09],[1.8,0.21,0.08],[1.85,-0.2,0.08],[1.9,0.31,0.09],[1.95,-0.27,0.08],[2.0,0.22,0.08],[2.1,-0.24,0.08],[2.2,0.3,0.09],[2.3,-0.36,0.09],[2.4,0.25,0.08],[2.5,0.45,0.1],[2.6,-0.24,0.08],[2.7,0.27,0.09],[2.8,-0.3,0.09],[2.9,0.23,0.08],[3.0,-0.22,0.08],[3.1,0.32,0.09],[3.2,-0.27,0.08],[3.3,0.24,0.08],[3.4,-0.32,0.09],[3.5,0.21,0.08],[3.6,-0.25,0.08],[3.7,0.3,0.09],[3.8,-0.2,0.08],[3.9,0.28,0.09],[4.0,-0.27,0.08],[4.1,0.22,0.08],[4.2,-0.22,0.08],[4.3,0.48,0.1],[4.35,-0.41,0.1],[4.37,0.41,0.1],[4.45,-0.3,0.09],[4.55,0.22,0.08],[4.65,-0.25,0.08],[4.75,0.3,0.09],[4.85,-0.18,0.08],[4.95,0.2,0.08],[5.05,-0.27,0.09],[5.15,0.15,0.07],[5.25,-0.22,0.08],[5.35,0.2,0.08],[5.45,-0.3,0.09],[5.55,0.27,0.08],[5.65,-0.2,0.08],[5.75,0.25,0.08],[5.85,-0.25,0.08],[5.92,0.3,0.09],
  [6.0,0.33,0.08],[6.0,0.22,0.07],[6.0,0.16,0.06],[6.0,0.1,0.06],[6.0,0.04,0.06],[6.0,-0.02,0.06],[6.0,-0.08,0.06],[6.0,-0.14,0.06],[6.0,-0.2,0.07],[6.0,-0.26,0.07],[6.0,-0.39,0.08],
  [0.3,-0.1,0.07],[0.5,-0.02,0.07],[0.7,-0.12,0.07],[0.9,0.05,0.07],[1.1,-0.08,0.07],[1.3,0.08,0.07],[1.5,-0.05,0.07],[1.7,0.1,0.07],[1.9,-0.1,0.07],[2.1,0.04,0.07],[2.3,-0.06,0.07],[2.5,0.11,0.07],[2.7,-0.03,0.07],[2.9,0.08,0.07],[3.1,-0.1,0.07],[3.3,0.05,0.07],[3.5,-0.07,0.07],[3.7,0.12,0.07],[3.9,0.0,0.07],[4.1,0.15,0.07],[4.3,-0.05,0.07],[4.5,0.1,0.07],[4.7,0.02,0.07],[4.9,-0.12,0.07],[5.1,0.05,0.07],[5.3,-0.15,0.07],[5.5,0.1,0.07],[5.7,-0.04,0.07],[5.9,0.12,0.07],[0.6,-0.16,0.07],[1.2,0.1,0.07],
  [0.25,0.08],[0.33,-0.22],[0.4,0.13],[0.48,-0.21],[0.55,0.17],[0.63,-0.2],[0.72,0.16],[0.78,-0.19],[0.87,0.15],[0.93,-0.17],[1.02,0.16],[1.08,-0.19],[1.17,0.15],[1.23,-0.17],[1.33,0.16],[1.42,-0.18],[1.52,0.17],[1.62,-0.19],[1.72,0.16],[1.82,-0.17],[1.92,0.18],[2.05,-0.18],[2.15,0.19],[2.35,-0.17],[2.45,0.18],[2.65,-0.18],[2.85,0.19],[3.05,-0.17],[3.25,0.19],[3.45,-0.16],[3.65,0.2],[3.85,-0.16],[4.05,0.22],[4.25,-0.16],[4.6,0.23],[4.8,-0.17],[5.0,0.15],[5.2,-0.25],[5.4,0.16],[5.6,-0.16],[5.8,0.19],[0.5,-0.28],[1.0,0.24],[1.5,-0.26],[2.0,0.26],
];

const PANELS = [
  { letter: "a", domain: [1.593, 2.52], ticks: A_TICKS, minor: A_MINOR, dec: 1, pts: A_PTS, edges: A_EDGES, med: A_MED, hi: A_HI, lo: A_LO, r: "0.074", rho: "0.11" },
  { letter: "b", domain: [1.533, 2.635], ticks: B_TICKS, minor: B_MINOR, dec: 1, pts: B_PTS, edges: B_EDGES, med: B_MED, hi: B_HI, lo: B_LO, r: "0.68", rho: "0.7" },
  { letter: "c", domain: [0.059, 2.061], ticks: C_TICKS, minor: C_MINOR, dec: 1, pts: C_PTS, edges: C_EDGES, med: C_MED, hi: C_HI, lo: C_LO, r: "\u2212 0.12", rho: "\u2212 0.12" },
  { letter: "d", domain: [9.636, 11.647], ticks: D_TICKS, minor: D_MINOR, dec: 1, pts: D_PTS, edges: D_EDGES, med: D_MED, hi: D_HI, lo: D_LO, r: "0.18", rho: "0.19" },
  { letter: "e", domain: [-0.496, 2.695], ticks: E_TICKS, minor: E_MINOR, dec: 0, pts: E_PTS, edges: E_EDGES, med: E_MED, hi: E_HI, lo: E_LO, r: "\u2212 0.2", rho: "\u2212 0.18" },
  { letter: "f", domain: [-2.76, 91.2], ticks: F_TICKS, minor: F_MINOR, dec: 0, pts: F_PTS, edges: F_EDGES, med: F_MED, hi: F_HI, lo: F_LO, r: "\u2212 0.025", rho: "\u2212 0.021" },
  { letter: "g", domain: [-1.056, 0.813], ticks: G_TICKS, minor: G_MINOR, dec: 1, pts: G_PTS, edges: G_EDGES, med: G_MED, hi: G_HI, lo: G_LO, r: "\u2212 0.14", rho: "\u2212 0.15" },
  { letter: "h", domain: [0.136, 1.0145], ticks: H_TICKS, minor: H_MINOR, dec: 1, pts: H_PTS, edges: H_EDGES, med: H_MED, hi: H_HI, lo: H_LO, r: "\u2212 0.0044", rho: "\u2212 0.042" },
  { letter: "i", domain: [0.041, 6.17], ticks: I_TICKS, minor: I_MINOR, dec: 0, pts: I_PTS, edges: I_EDGES, med: I_MED, hi: I_HI, lo: I_LO, r: "0.2", rho: "0.23" },
];
const TYPICAL_ERR = 0.08;

// layout of the 3x3 grid (plot area of each panel)
const COL_LEFT = [108, 326.6, 545.2];
const ROW_TOP = [8, 279.5, 551.2];
const PW = 218.3;
const PH = 211.3;
const YW = 40, XH = 24;          // axis boxes
const ML = 10, MR = 12, MT = 12, MB = 20;

const fmt = (v: number, dec: number) => v.toFixed(dec).replace("-", "\u2212");
const isMajor = (v: number, majors: number[]) => majors.some((m) => Math.abs(m - v) < 1e-6);

const Dot = (props: any) => (
  <circle cx={props.cx} cy={props.cy} r={3.1} fill="#fff" stroke="#000" strokeWidth={0.8} />
);

const makeXTick = (majors: number[], dec: number) => (props: any) => {
  const { x, y, payload } = props;
  const major = isMajor(payload.value, majors);
  return (
    <g>
      <line x1={x} x2={x} y1={y} y2={y + (major ? 3.5 : 2)} stroke="#000" strokeWidth={major ? 0.9 : 0.7} />
      {major && (
        <text x={x} y={y + 16.3} textAnchor="middle" fontSize={10} fontFamily={SERIF} fill="#000">{fmt(payload.value, dec)}</text>
      )}
    </g>
  );
};

const makeYTick = (labels: boolean) => (props: any) => {
  const { x, y, payload } = props;
  const major = isMajor(payload.value, Y_TICKS);
  return (
    <g>
      <line x1={x - (major ? 3.5 : 2)} x2={x} y1={y} y2={y} stroke="#000" strokeWidth={major ? 0.9 : 0.7} />
      {major && labels && (
        <text x={x - 7.3} y={y + 3.6} textAnchor="end" fontSize={10} fontFamily={SERIF} fill="#000">{fmt(payload.value, 1)}</text>
      )}
    </g>
  );
};

const Panel = ({ p, idx }: { p: any; idx: number }) => {
  const col = idx % 3;
  const row = Math.floor(idx / 3);
  const data = p.pts.map((t: number[]) => ({ x: t[0], y: t[1], e: t.length > 2 ? t[2] : TYPICAL_ERR }));
  const boxes = p.med.map((m: number, i: number) => ({ x1: p.edges[i], x2: p.edges[i + 1], lo: p.lo[i], hi: p.hi[i], med: m }));
  const w = ML + YW + PW + MR;
  const h = MT + PH + XH + MB;
  const pos: React.CSSProperties = { position: "absolute", left: COL_LEFT[col] - ML - YW, top: ROW_TOP[row] - MT };

  return (
    <>
      <div style={pos}>
        <ComposedChart width={w} height={h} margin={{ top: MT, right: MR, bottom: MB, left: ML }}>
          <XAxis type="number" dataKey="x" domain={p.domain} allowDataOverflow ticks={[...p.ticks, ...p.minor]} interval={0}
            height={XH} tickSize={0} tickMargin={0} tickLine={false} tick={makeXTick(p.ticks, p.dec)}
            axisLine={{ stroke: "#000", strokeWidth: 0.9 }} />
          <YAxis type="number" dataKey="y" domain={Y_DOMAIN} allowDataOverflow ticks={[...Y_TICKS, ...Y_MINOR]} interval={0}
            width={YW} tickSize={0} tickMargin={0} tickLine={false} tick={makeYTick(col === 0)}
            axisLine={{ stroke: "#000", strokeWidth: 0.9 }} />
          <ReferenceLine y={0} stroke="#555" strokeWidth={1} />
          <Scatter data={data} isAnimationActive={false} shape={Dot}>
            <ErrorBar dataKey="e" direction="y" width={0} stroke="#000" strokeOpacity={0.62} strokeWidth={1.25} isAnimationActive={false} />
          </Scatter>
        </ComposedChart>
      </div>
      <div style={pos}>
        <ComposedChart width={w} height={h} margin={{ top: MT, right: MR, bottom: MB + XH, left: ML + YW }}>
          <XAxis hide type="number" dataKey="x" domain={p.domain} allowDataOverflow />
          <YAxis hide type="number" dataKey="y" domain={Y_DOMAIN} allowDataOverflow />
          {boxes.map((b: any, i: number) => (
            <ReferenceArea key={"b" + i} x1={b.x1} x2={b.x2} y1={b.lo} y2={b.hi} fill="#787878" fillOpacity={0.66} stroke="none" />
          ))}
          {boxes.map((b: any, i: number) => (
            <ReferenceLine key={"m" + i} segment={[{ x: b.x1, y: b.med }, { x: b.x2, y: b.med }]} stroke="#0000ff" strokeWidth={2.6} />
          ))}
          <ReferenceArea x1={p.domain[0]} x2={p.domain[1]} y1={Y_DOMAIN[0]} y2={Y_DOMAIN[1]} fill="none" stroke="#000" strokeWidth={0.9} />
        </ComposedChart>
      </div>
    </>
  );
};

const SUB = 8.5;

const sigmaLabel = (sub: string) => (
  <>
    <tspan>log σ</tspan>
    <tspan dy={-5} fontSize={SUB}>′</tspan>
    <tspan dx={-2.4} dy={8.5} fontSize={SUB} fontStyle="italic">{sub}</tspan>
    <tspan dy={-3.5}>{"\u200a"}</tspan>
  </>
);

const X_LABELS = [
  <>{sigmaLabel("⋆, int")} [km/s]</>,
  <>{sigmaLabel("g, int")} [km/s]</>,
  <>log S/N of Brightest Emission Line</>,
  <>log Stellar Mass [M<tspan dy={3} fontSize={SUB}>⊙</tspan><tspan dy={-3}>]</tspan></>,
  <>log SFR<tspan dy={3} fontSize={SUB} fontStyle="italic">UV + IR</tspan><tspan dy={-3}> [</tspan><tspan fontStyle="italic">M</tspan><tspan dy={3} fontSize={SUB}>⊙</tspan><tspan dy={-3}>/yr]</tspan></>,
  <>Slit Misalignment [<tspan dy={-5} fontSize={SUB} fontStyle="italic">o</tspan><tspan dy={5}>]</tspan></>,
  <>log Effective Radius ["]</>,
  <>Axis Ratio</>,
  <>Sérsic n</>,
];

const YLabel = ({ cy }: { cy: number }) => (
  <text transform={`translate(75, ${cy}) rotate(-90)`} textAnchor="middle" fontSize={12} fontFamily={SERIF} fill="#000">
    log σ
    <tspan dy={-5} fontSize={SUB}>′</tspan>
    <tspan dx={-2.4} dy={8.5} fontSize={SUB} fontStyle="italic">g, int</tspan>
    <tspan dy={-3.5}>/σ</tspan>
    <tspan dy={-5} fontSize={SUB}>′</tspan>
    <tspan dx={-2.4} dy={8.5} fontSize={SUB} fontStyle="italic">⋆, int</tspan>
  </text>
);

const Annotations = () => (
  <svg width={830} height={830} style={{ position: "absolute", left: 0, top: 0, pointerEvents: "none" }}>
    {PANELS.map((p, idx) => {
      const left = COL_LEFT[idx % 3];
      const top = ROW_TOP[Math.floor(idx / 3)];
      return (
        <g key={p.letter} fontFamily={SERIF} fill="#000">
          <text x={left + 22} y={top + 30} fontSize={11}>({p.letter})</text>
          <text x={left + PW / 2} y={top + PH - 14} fontSize={9} textAnchor="middle">
            Pearson <tspan fontStyle="italic">r</tspan> = {p.r}, Spearman <tspan fontStyle="italic">ρ</tspan> = {p.rho}
          </text>
          <text x={left + PW / 2} y={top + PH + 33} fontSize={12} textAnchor="middle">{X_LABELS[idx]}</text>
        </g>
      );
    })}
    {ROW_TOP.map((t) => <YLabel key={t} cy={t + PH / 2} />)}
  </svg>
);

const App = () => (
  <div style={{ position: "absolute", left: 0, top: 0, width: 830, height: 830, background: "#fff" }}>
    {PANELS.map((p, idx) => <Panel key={p.letter} p={p} idx={idx} />)}
    <Annotations />
  </div>
);

export default App;
